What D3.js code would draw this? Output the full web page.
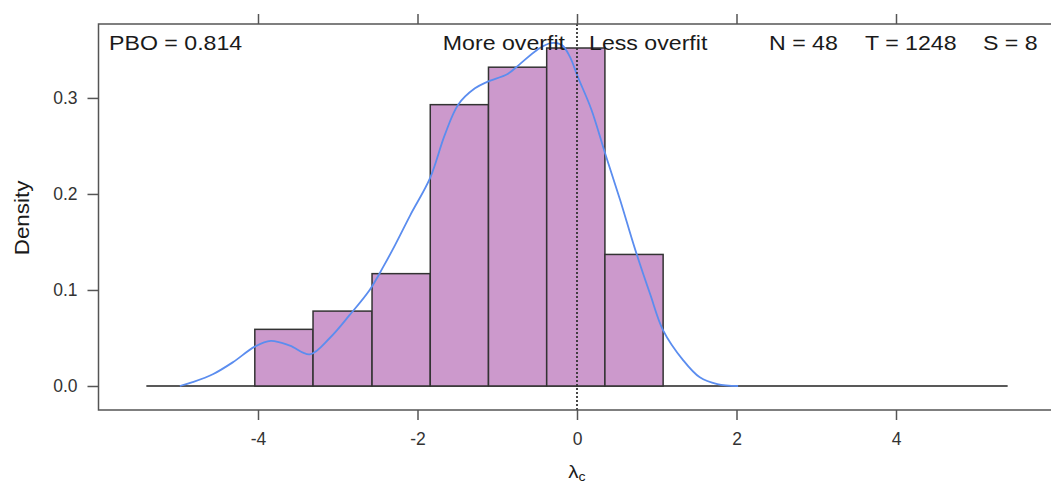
<!DOCTYPE html>
<html>
<head>
<meta charset="utf-8">
<script src="https://cdn.jsdelivr.net/npm/d3@7"></script>
<style>
  body { margin: 0; background: #fff; }
  svg { display: block; font-family: "Liberation Sans", Arial, Helvetica, sans-serif; }
</style>
</head>
<body>
<svg id="chart"></svg>
<script>
var w = 1051,
	h = 488;

// histogram of lambda_c (density scale)
var binEdges = [-4.04, -3.31, -2.57, -1.84, -1.11, -0.38, 0.35, 1.08],
	binDensity = [0.059, 0.078, 0.117, 0.293, 0.332, 0.352, 0.137];

// kernel density estimate
var kdeX = [-4.98, -4.82, -4.56, -4.31, -4.04, -3.84, -3.6, -3.35, -3.1, -2.85, -2.6, -2.43, -2.28, -2.09, -1.84, -1.66, -1.49, -1.28, -1.12, -0.87, -0.72, -0.5, -0.33, -0.19, -0.09, 0.01, 0.18, 0.35, 0.54, 0.73, 0.92, 1.08, 1.33, 1.54, 1.76, 2.02],
	kdeY = [0, 0.004, 0.0125, 0.025, 0.041, 0.047, 0.042, 0.033, 0.05, 0.074, 0.1, 0.124, 0.147, 0.178, 0.217, 0.261, 0.293, 0.31, 0.317, 0.325, 0.335, 0.35, 0.357, 0.355, 0.343, 0.322, 0.288, 0.243, 0.194, 0.142, 0.095, 0.058, 0.027, 0.009, 0.002, 0];

var xTicks = [-4, -2, 0, 2, 4],
	yTicks = [0, 0.1, 0.2, 0.3],
	baseRange = [-5.4, 5.4];

var pbo = 0.814,
	nStrat = 48,
	tObs = 1248,
	sPart = 8;

var x = d3.scaleLinear().domain([-6, 6]).range([98.5, 1055.5]),
	y = d3.scaleLinear().domain([-0.025, 0.377]).range([410, 24]);

var axisCol = '#555',
	textCol = '#1a1a1a';

var svg = d3.select('#chart')
	.attr('width', w)
	.attr('height', h);

// horizontal stretch of text, the source picture is a bit wide
function label(txt, px, py, anchor, size, sx) {
	return svg.append('text')
		.attr('transform', 'translate(' + px + ',' + py + ') scale(' + sx + ',1)')
		.attr('text-anchor', anchor)
		.style('font-size', size + 'px')
		.style('fill', textCol)
		.text(txt);
}

// zero line under the histogram
svg.append('line')
	.attr('x1', x(baseRange[0]))
	.attr('x2', x(baseRange[1]))
	.attr('y1', y(0))
	.attr('y2', y(0))
	.style('stroke', '#222')
	.style('stroke-width', 1.5);

var bins = binDensity.map(function(d, i) {
	return { x0: binEdges[i], x1: binEdges[i + 1], d: d };
});

svg.selectAll('rect.bar')
	.data(bins)
	.enter().append('rect')
	.attr('class', 'bar')
	.attr('x', function(b) { return x(b.x0); })
	.attr('width', function(b) { return x(b.x1) - x(b.x0); })
	.attr('y', function(b) { return y(b.d); })
	.attr('height', function(b) { return y(0) - y(b.d); })
	.style('fill', '#cc99cc')
	.style('stroke', '#333')
	.style('stroke-width', 1.5);

var kde = kdeX.map(function(v, i) { return [v, kdeY[i]]; });

svg.append('path')
	.datum(kde)
	.attr('d', d3.line()
		.x(function(d) { return x(d[0]); })
		.y(function(d) { return y(d[1]); })
		.curve(d3.curveCatmullRom.alpha(0.5)))
	.style('fill', 'none')
	.style('stroke', '#5b8def')
	.style('stroke-width', 1.8);

// reference line at lambda = 0
svg.append('line')
	.attr('x1', x(0))
	.attr('x2', x(0))
	.attr('y1', y.range()[1])
	.attr('y2', y.range()[0])
	.style('stroke', '#333')
	.style('stroke-width', 1.8)
	.style('stroke-dasharray', '2,2');

// panel box
svg.append('rect')
	.attr('x', x.range()[0])
	.attr('y', y.range()[1])
	.attr('width', x.range()[1] - x.range()[0])
	.attr('height', y.range()[0] - y.range()[1])
	.style('fill', 'none')
	.style('stroke', axisCol)
	.style('stroke-width', 1.5);

function styleAxis(g) {
	g.select('.domain').remove();
	g.selectAll('line').style('stroke', axisCol).style('stroke-width', 1.5);
	g.selectAll('text').style('fill', '#333').style('font-size', '17.5px')
		.style('font-family', '"Liberation Sans", Arial, Helvetica, sans-serif');
}

svg.append('g')
	.attr('transform', 'translate(0,' + y.range()[0] + ')')
	.call(d3.axisBottom(x).tickValues(xTicks).tickSize(10).tickPadding(13)
		.tickFormat(function(d) { return String(d); }))
	.call(styleAxis);

svg.append('g')
	.attr('transform', 'translate(0,' + y.range()[1] + ')')
	.call(d3.axisTop(x).tickValues(xTicks).tickSize(10).tickFormat(''))
	.call(styleAxis);

svg.append('g')
	.attr('transform', 'translate(' + x.range()[0] + ',0)')
	.call(d3.axisLeft(y).tickValues(yTicks).tickSize(11).tickPadding(10)
		.tickFormat(d3.format('.1f')))
	.call(styleAxis);

// annotations inside the panel
label('PBO = ' + pbo, 109, 50, 'start', 20.5, 1.13);
label('More overfit', x(0) - 12, 50, 'end', 20.5, 1.13);
label('Less overfit', x(0) + 12, 50, 'start', 20.5, 1.13);
label('N = ' + nStrat, 769, 50, 'start', 20.5, 1.13);
label('T = ' + tObs, 865, 50, 'start', 20.5, 1.13);
label('S = ' + sPart, 983, 50, 'start', 20.5, 1.13);

// axis titles
svg.append('text')
	.attr('transform', 'translate(29,' + y(0.175) + ') rotate(-90) scale(1.12,1)')
	.attr('text-anchor', 'middle')
	.style('font-size', '20px')
	.style('fill', textCol)
	.text('Density');

var xl = svg.append('text')
	.attr('transform', 'translate(' + x(0) + ',478) scale(1.08,1)')
	.attr('text-anchor', 'middle')
	.style('font-size', '19px')
	.style('fill', textCol);
xl.append('tspan').text('λ');
xl.append('tspan').attr('dy', 3).style('font-size', '13px').text('c');
</script>
</body>
</html>
